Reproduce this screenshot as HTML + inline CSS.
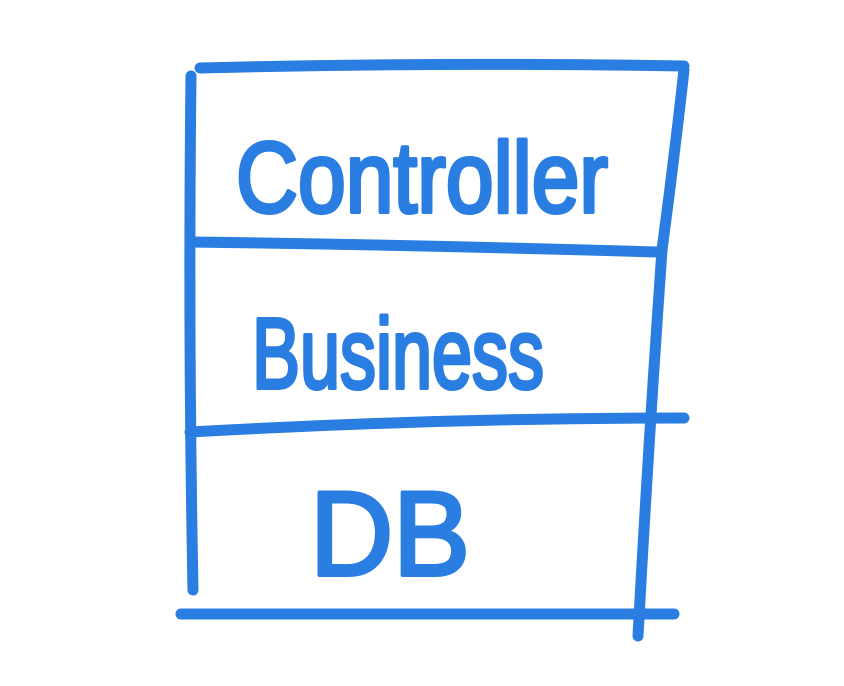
<!DOCTYPE html>
<html><head><meta charset="utf-8"><style>
html,body{margin:0;padding:0;background:#fff;}
svg{display:block}
</style></head><body>
<svg width="844" height="686" viewBox="0 0 844 686" xmlns="http://www.w3.org/2000/svg">
<g fill="none" stroke="#2a7de1" stroke-width="11" stroke-linecap="round" stroke-linejoin="round">
<path d="M200 68 Q440 62 684 66"/>
<path d="M191 76 Q188 330 193 590"/>
<path d="M684 70 Q674 160 662 250 Q648 450 638 636"/>
<path d="M191 242 Q420 245 658 252"/>
<path d="M190 432 Q440 418 684 418"/>
<path d="M181 614 Q430 614 674 614"/>
</g>
<g fill="#2a7de1" stroke="#2a7de1" stroke-width="4" stroke-linejoin="round" font-family="Liberation Sans, sans-serif">
<text x="236" y="212" font-size="100" textLength="372" lengthAdjust="spacingAndGlyphs">Controller</text>
<text x="252" y="388" font-size="100" textLength="292" lengthAdjust="spacingAndGlyphs">Business</text>
<text x="310" y="575" font-size="120" textLength="160" lengthAdjust="spacingAndGlyphs">DB</text>
</g>
</svg>
</body></html>
